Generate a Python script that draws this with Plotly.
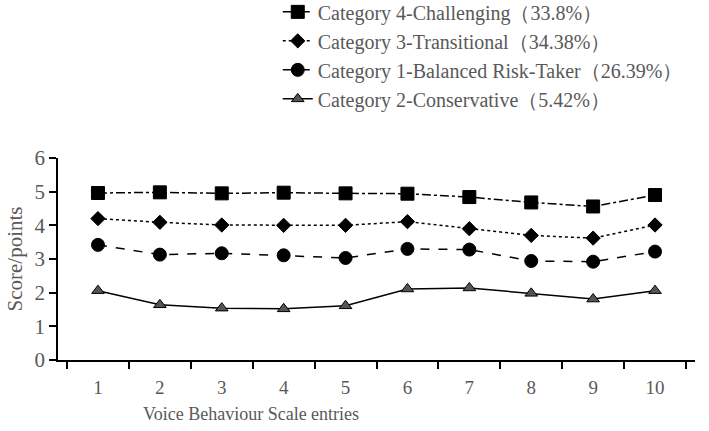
import plotly.graph_objects as go

items = ["1", "2", "3", "4", "5", "6", "7", "8", "9", "10"]
names = [
    "Category 4-Challenging（33.8%）",
    "Category 3-Transitional（34.38%）",
    "Category 1-Balanced Risk-Taker（26.39%）",
    "Category 2-Conservative（5.42%）",
]
cat4 = [4.96, 4.98, 4.95, 4.97, 4.95, 4.94, 4.84, 4.68, 4.56, 4.90]
cat3 = [4.20, 4.09, 4.01, 4.00, 4.00, 4.11, 3.90, 3.70, 3.62, 4.01]
cat1 = [3.42, 3.13, 3.17, 3.11, 3.03, 3.30, 3.28, 2.94, 2.92, 3.22]
cat2 = [2.06, 1.64, 1.54, 1.52, 1.61, 2.11, 2.14, 1.98, 1.81, 2.06]

series = [cat4, cat3, cat1, cat2]
dashes = ["dashdot", "dot", "dash", "solid"]
symbols = ["square", "diamond", "circle", "triangle-up"]
sizes = [13, 11, 13, 11]
fills = ["black", "black", "black", "#555555"]

TXT = "#595959"
FONT = "Liberation Serif"

fig = go.Figure()
for name, ys, d, s, sz, fc in zip(names, series, dashes, symbols, sizes, fills):
    fig.add_trace(go.Scatter(
        x=items, y=ys, name=name, mode="lines+markers",
        line=dict(color="black", width=1.5, dash=d),
        marker=dict(symbol=s, size=sz, color=fc, line=dict(color="black", width=1)),
    ))

fig.update_layout(
    width=709, height=431,
    margin=dict(l=58, r=14, t=158, b=71, autoexpand=False),
    paper_bgcolor="white", plot_bgcolor="white",
    font=dict(family=FONT, size=18, color=TXT),
    showlegend=True,
    legend=dict(
        x=0.345, y=1.82, xanchor="left", yanchor="top",
        font=dict(family=FONT, size=20, color=TXT),
        bgcolor="rgba(0,0,0,0)", traceorder="normal",
        tracegroupgap=0, itemwidth=30,
    ),
    xaxis=dict(
        type="category", tickson="boundaries", ticks="outside", ticklen=7,
        tickcolor="black", tickwidth=1.5,
        showline=True, linecolor="black", linewidth=1.5,
        showgrid=False, zeroline=False,
        ticklabelstandoff=9,
        tickfont=dict(family=FONT, size=19, color=TXT),
    ),
    yaxis=dict(
        range=[0, 6], dtick=1, ticks="outside", ticklen=7,
        tickcolor="black", tickwidth=1.5,
        showline=True, linecolor="black", linewidth=1.5,
        showgrid=False, zeroline=False,
        tickfont=dict(family=FONT, size=21, color=TXT),
        title=dict(text="Score/points", font=dict(family=FONT, size=21, color=TXT), standoff=6),
    ),
    annotations=[dict(
        text="Voice Behaviour Scale entries", xref="paper", yref="paper",
        x=(251 - 58) / 637, y=-0.265, xanchor="center", yanchor="middle",
        showarrow=False, font=dict(family=FONT, size=18, color=TXT),
    )],
)

fig.write_html("out.html")
